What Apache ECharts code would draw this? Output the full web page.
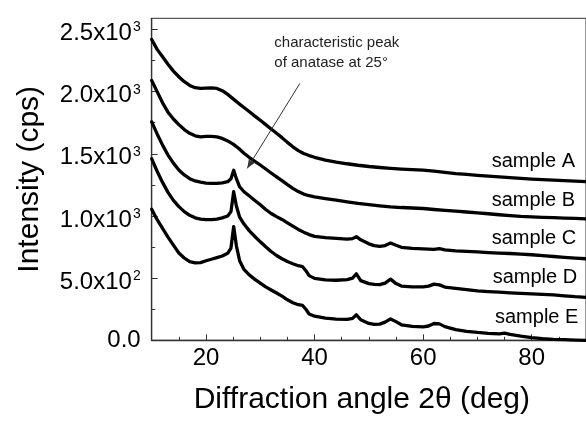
<!DOCTYPE html>
<html>
<head>
<meta charset="utf-8">
<script src="https://cdn.jsdelivr.net/npm/echarts@6/dist/echarts.min.js"></script>
<style>
html,body{margin:0;padding:0;background:#fff;}
#chart{width:586px;height:423px;}
</style>
</head>
<body>
<div id="chart"></div>
<script>
// ---- data ----
const sampleNames = ['sample A', 'sample B', 'sample C', 'sample D', 'sample E'];

const sampleA = [[10,2420],[11,2340],[12,2280],[13,2220],[14,2165],[15,2120],[16,2080],[17,2050],[18,2032],[19,2026],[20,2028],[21,2030],[22,2026],[23,2008],[24,1978],[25,1942],[26,1906],[27,1872],[28,1838],[29,1803],[30,1770],[31,1735],[32,1700],[33,1665],[34,1630],[35,1592],[36,1556],[37,1526],[38,1502],[39,1486],[40,1472],[42,1450],[44,1434],[46,1420],[48,1408],[50,1398],[52,1390],[54,1383],[56,1377],[58,1372],[60,1368],[62,1360],[64,1350],[66,1341],[68,1334],[70,1327],[72,1320],[74,1314],[76,1308],[78,1302],[80,1297],[82,1293],[84,1289],[86,1284],[88,1280],[90,1276]];

const sampleB = [[10,2090],[11,2000],[12,1910],[13,1835],[14,1780],[15,1735],[16,1695],[17,1665],[18,1645],[19,1637],[20,1640],[21,1640],[22,1636],[23,1624],[24,1604],[25,1578],[26,1545],[27,1505],[28,1470],[29,1440],[30,1410],[31,1378],[32,1346],[33,1315],[34,1284],[35,1252],[36,1222],[37,1196],[38,1176],[39,1163],[40,1154],[42,1140],[44,1127],[46,1114],[48,1101],[50,1091],[52,1082],[54,1074],[56,1068],[58,1064],[60,1060],[62,1052],[64,1045],[66,1039],[68,1032],[70,1025],[72,1018],[74,1010],[76,1003],[78,997],[80,993],[82,989],[84,986],[86,983],[88,980],[90,977]];

const sampleC = [[10,1757],[11,1660],[12,1570],[13,1490],[14,1425],[15,1370],[16,1330],[17,1300],[18,1282],[19,1272],[20,1265],[21,1262],[22,1263],[23,1267],[24,1276],[24.6,1300],[25.1,1368],[25.6,1300],[26.2,1235],[27,1195],[28,1160],[29,1125],[30,1090],[31,1052],[32,1020],[33,995],[34,972],[35,945],[36,918],[37,892],[38,870],[39,850],[40,836],[42,826],[44,820],[46,814],[47,818],[47.7,834],[48.5,808],[50,776],[51,762],[52,756],[53,762],[54,782],[55,764],[56,748],[58,739],[60,735],[62,732],[63,738],[64,728],[66,720],[68,715],[70,711],[72,706],[74,702],[76,698],[78,693],[80,688],[82,681],[84,674],[86,667],[88,661],[90,656]];

const sampleD = [[10,1460],[11,1360],[12,1270],[13,1190],[14,1125],[15,1075],[16,1035],[17,1005],[18,985],[19,975],[20,970],[21,970],[22,975],[23,985],[24,1000],[24.6,1035],[25.1,1195],[25.6,1080],[26.2,990],[27,935],[28,880],[29,835],[30,792],[31,752],[32,714],[33,682],[34,656],[35,634],[36,616],[37,600],[37.8,592],[38.4,560],[39,520],[40,498],[42,486],[44,483],[46,488],[47,500],[47.7,535],[48.5,480],[50,456],[51,450],[52,448],[53,460],[54,492],[55,456],[56,436],[58,430],[60,430],[61,436],[62,452],[63,446],[64,428],[66,418],[68,408],[70,398],[72,392],[74,387],[76,382],[78,378],[80,374],[82,370],[84,365],[86,358],[88,351],[90,346]];

const sampleE = [[10,1055],[11,970],[12,900],[13,830],[14,765],[15,702],[16,662],[17,632],[18,622],[19,625],[20,640],[21,652],[22,665],[23,678],[24,700],[24.6,742],[25.1,915],[25.6,760],[26.2,640],[27,570],[28,525],[29,490],[30,460],[31,430],[32,405],[33,380],[34,355],[35,326],[36,302],[37,286],[37.8,280],[38.4,250],[39,212],[40,194],[42,178],[44,170],[46,168],[47,176],[47.7,205],[48.5,165],[50,136],[51,128],[52,130],[53,146],[54,172],[55,150],[56,125],[58,112],[60,108],[61,115],[62,135],[63,132],[64,110],[66,86],[68,72],[70,63],[72,56],[74,52],[75,58],[76,48],[78,33],[80,22],[82,14],[84,8],[86,5],[88,2],[90,0]];

const xMajorTicks = [20, 40, 60, 80];
const xMinorTicks = [15, 25, 30, 35, 45, 50, 55, 65, 70, 75, 85];
const yMajorTicks = [0, 500, 1000, 1500, 2000, 2500];
const yMinorTicks = [250, 750, 1250, 1750, 2250];

const annotationText = 'characteristic peak\nof anatase at 25\u00B0';
const arrowFrom = [37.3, 2066];
const arrowTo = [27.6, 1383];

const xTitle = 'Diffraction angle 2\u03B8 (deg)';
const yTitle = 'Intensity (cps)';

// ---- chart ----
const FONT = '"Liberation Sans", Arial, Helvetica, sans-serif';
const chart = echarts.init(document.getElementById('chart'), null, {renderer: 'canvas'});

const GRID = {left: 151.7, top: 18.3, width: 446.4, height: 322};

function yLabel(v) {
  if (v === 0) return '{z|0.0}';
  const e = Math.floor(Math.log10(v) + 1e-9);
  const m = (v / Math.pow(10, e)).toFixed(1);
  return '{m|' + m + 'x10}{s|' + e + '}';
}

const seriesList = [sampleA, sampleB, sampleC, sampleD, sampleE].map((d, i) => {
  const s = {
    name: sampleNames[i],
    type: 'line',
    data: d,
    showSymbol: false,
    smooth: false,
    lineStyle: {color: '#000', width: 3.3, join: 'round', cap: 'round'},
    silent: true,
    z: 3
  };
  if (i === 0) {
    s.markLine = {
      silent: true,
      symbol: ['none', 'arrow'],
      symbolSize: [6, 10],
      label: {show: false},
      lineStyle: {color: '#333', width: 1, type: 'solid'},
      data: [[{coord: arrowFrom}, {coord: arrowTo}]]
    };
  }
  return s;
});

const labelY = [161.7, 200, 238, 277, 317];
const labelX = [491.7, 491.7, 491.7, 492.7, 495];

const graphics = sampleNames.map((n, i) => ({
  type: 'text',
  x: labelX[i],
  y: labelY[i],
  style: {text: n, fontSize: 20, fontFamily: FONT, fill: '#000', verticalAlign: 'middle', align: 'left'},
  z: 10
}));
graphics.push({
  type: 'text',
  x: 274.3,
  y: 33.5,
  style: {text: annotationText, fontSize: 15, lineHeight: 19.5, fontFamily: FONT, fill: '#222', verticalAlign: 'top', align: 'left'},
  z: 10
});

const option = {
  animation: false,
  backgroundColor: '#fff',
  grid: Object.assign({show: true, borderColor: '#333', borderWidth: 1, backgroundColor: 'transparent'}, GRID),
  xAxis: [{
    type: 'value', min: 10, max: 90, position: 'bottom',
    name: xTitle, nameLocation: 'middle', nameGap: 44,
    nameTextStyle: {fontSize: 30, fontFamily: FONT, color: '#000', padding: [0, 14, 0, 0]},
    axisLine: {show: true, lineStyle: {color: '#333', width: 1.3}},
    axisTick: {show: true, inside: true, length: 6, customValues: xMajorTicks, lineStyle: {color: '#333', width: 1}},
    axisLabel: {show: true, customValues: xMajorTicks, margin: 6, fontSize: 24, fontFamily: FONT, color: '#000'},
    splitLine: {show: false}
  }, {
    type: 'value', min: 10, max: 90, position: 'bottom',
    axisLine: {show: false},
    axisTick: {show: true, inside: true, length: 3.5, customValues: xMinorTicks, lineStyle: {color: '#333', width: 1}},
    axisLabel: {show: false},
    splitLine: {show: false}
  }],
  yAxis: [{
    type: 'value', min: 0, max: 2590, position: 'left',
    name: yTitle, nameLocation: 'middle', nameGap: 107, nameRotate: 90,
    nameTextStyle: {fontSize: 30, fontFamily: FONT, color: '#000'},
    axisLine: {show: true, lineStyle: {color: '#333', width: 1.3}},
    axisTick: {show: true, inside: true, length: 6, customValues: yMajorTicks, lineStyle: {color: '#333', width: 1}},
    axisLabel: {
      show: true, customValues: yMajorTicks, margin: 11, color: '#000',
      formatter: yLabel,
      rich: {
        z: {fontSize: 24, fontFamily: FONT, color: '#000'},
        m: {fontSize: 24, lineHeight: 24, fontFamily: FONT, color: '#000', padding: [8, 0, 0, 0]},
        s: {fontSize: 14, lineHeight: 14, fontFamily: FONT, color: '#000', verticalAlign: 'top', padding: [3, 0, 0, 1]}
      }
    },
    splitLine: {show: false}
  }, {
    type: 'value', min: 0, max: 2590, position: 'left',
    axisLine: {show: false},
    axisTick: {show: true, inside: true, length: 3.5, customValues: yMinorTicks, lineStyle: {color: '#333', width: 1}},
    axisLabel: {show: false},
    splitLine: {show: false}
  }],
  series: seriesList,
  graphic: graphics
};

chart.setOption(option);
</script>
</body>
</html>
